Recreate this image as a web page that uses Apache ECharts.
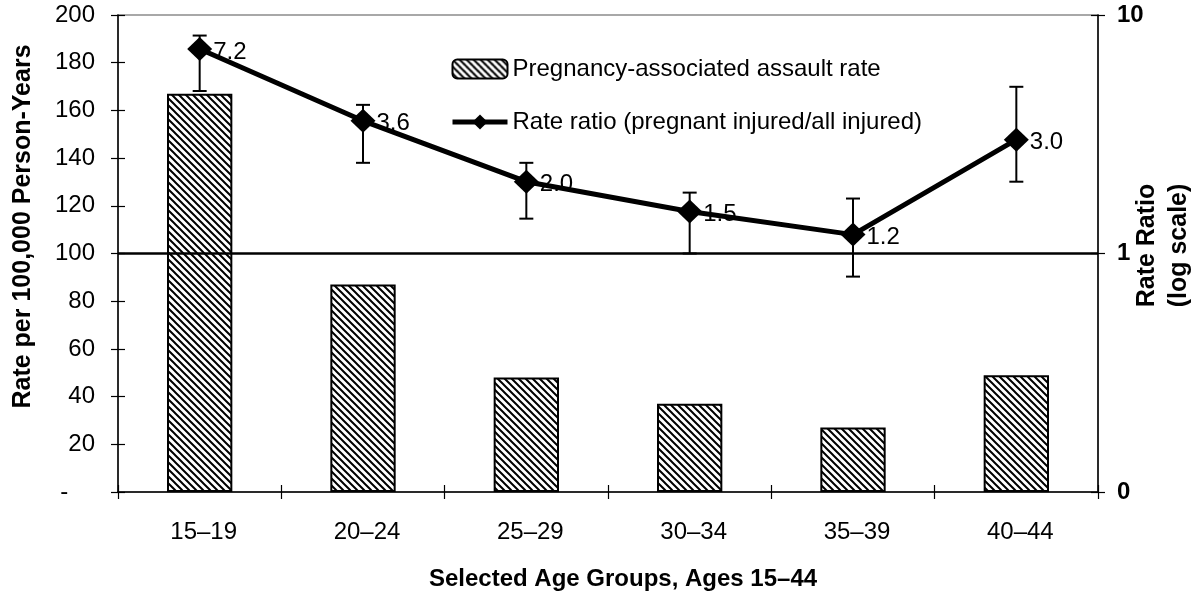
<!DOCTYPE html>
<html><head><meta charset="utf-8">
<script src="https://cdn.jsdelivr.net/npm/echarts@6/dist/echarts.min.js"></script>
<style>html,body{margin:0;padding:0;background:#fff}#c{width:1204px;height:593px}</style>
</head><body><div id="c"></div>
<script>
const categories = ['15–19', '20–24', '25–29', '30–34', '35–39', '40–44'];
const assaultRate = [167, 87, 48, 37, 27, 49];
const rateRatio = [7.2, 3.6, 2.0, 1.5, 1.2, 3.0];
const ratioLow = [4.8, 2.4, 1.4, 1.0, 0.8, 2.0];
const ratioHigh = [8.2, 4.2, 2.4, 1.8, 1.7, 5.0];
const leftMin = 0, leftMax = 200, leftStep = 20;
const rightMin = 0.1, rightMax = 10;
const referenceRatio = 1;

const FONT = "'Liberation Sans', Arial, sans-serif";

function hatch() {
  const s = 7;
  const c = document.createElement('canvas');
  c.width = s; c.height = s;
  const g = c.getContext('2d');
  g.fillStyle = '#fff'; g.fillRect(0, 0, s, s);
  g.strokeStyle = '#000'; g.lineWidth = 2;
  g.beginPath();
  g.moveTo(-1, -1); g.lineTo(s + 1, s + 1);
  g.moveTo(s - 1, -1); g.lineTo(s + 1, 1);
  g.moveTo(-1, s - 1); g.lineTo(1, s + 1);
  g.stroke();
  return c;
}
const pattern = { image: hatch(), repeat: 'repeat' };

const gridBox = { left: 118, right: 106, top: 15, bottom: 101, containLabel: false, outerBoundsMode: 'none' };

const chart = echarts.init(document.getElementById('c'));
chart.setOption({
  animation: false,
  backgroundColor: '#fff',
  textStyle: { fontFamily: FONT, color: '#000' },
  grid: [
    Object.assign({ show: true, borderColor: '#8c8c8c', borderWidth: 1.5, backgroundColor: 'transparent' }, gridBox),
    Object.assign({}, gridBox)
  ],
  legend: {
    orient: 'vertical', left: 445, top: 52,
    itemWidth: 55, itemHeight: 19, itemGap: 29,
    textStyle: { fontSize: 24, fontFamily: FONT, color: '#000' },
    lineStyle: { width: 5 },
    data: ['Pregnancy-associated assault rate', 'Rate ratio (pregnant injured/all injured)']
  },
  xAxis: [
    {
      type: 'category', data: categories, gridIndex: 0,
      axisLine: { lineStyle: { color: '#000', width: 1.5 } },
      axisTick: { show: true, length: 7, lineStyle: { color: '#000', width: 1.2 } },
      axisLabel: { fontSize: 24, color: '#000', margin: 28, fontFamily: FONT, padding: [0, 0, 0, 8] },
      name: 'Selected Age Groups, Ages 15–44', nameLocation: 'middle', nameGap: 75, nameMoveOverlap: false,
      nameTextStyle: { fontSize: 24, fontWeight: 'bold', color: '#000', fontFamily: FONT, padding: [0, 0, 0, 30] }
    },
    {
      type: 'category', data: categories, gridIndex: 1,
      axisLine: { show: false }, axisLabel: { show: false },
      axisTick: { show: true, inside: true, length: 7, lineStyle: { color: '#000', width: 1.2 } }
    }
  ],
  yAxis: [
    {
      type: 'value', min: leftMin, max: leftMax, interval: leftStep, gridIndex: 0, position: 'left',
      axisLine: { show: true, lineStyle: { color: '#000', width: 1.5 } },
      axisTick: { show: true, length: 7, lineStyle: { color: '#000', width: 1.2 } },
      splitLine: { show: false },
      axisLabel: { fontSize: 24, color: '#000', margin: 23, fontFamily: FONT,
        formatter: v => v === 0 ? '-    ' : String(v) },
      name: 'Rate per 100,000 Person-Years', nameLocation: 'middle', nameGap: 82, nameRotate: 90, nameMoveOverlap: false,
      nameTextStyle: { fontSize: 25, fontWeight: 'bold', color: '#000', fontFamily: FONT, padding: [0, 0, 0, 54] }
    },
    {
      type: 'log', logBase: 10, min: rightMin, max: rightMax, gridIndex: 0, position: 'right',
      axisLine: { show: true, lineStyle: { color: '#000', width: 1.5 } },
      axisTick: { show: true, length: 7, lineStyle: { color: '#000', width: 1.2 } },
      splitLine: { show: false },
      axisLabel: { fontSize: 24, fontWeight: 'bold', color: '#000', margin: 19, fontFamily: FONT,
        formatter: v => v < 1 ? '0' : String(Math.round(v)) },
      name: 'Rate Ratio\n(log scale)', nameLocation: 'middle', nameGap: 33, nameRotate: 90, nameMoveOverlap: false,
      nameTextStyle: { fontSize: 25, fontWeight: 'bold', color: '#000', fontFamily: FONT, lineHeight: 32, padding: [0, 0, 0, 16] }
    },
    {
      type: 'value', min: leftMin, max: leftMax, interval: leftStep, gridIndex: 1, position: 'left',
      axisLine: { show: false }, axisLabel: { show: false }, splitLine: { show: false },
      axisTick: { show: true, inside: true, length: 7, lineStyle: { color: '#000', width: 1.2 } }
    },
    {
      type: 'log', logBase: 10, min: rightMin, max: rightMax, gridIndex: 1, position: 'right',
      axisLine: { show: false }, axisLabel: { show: false }, splitLine: { show: false },
      axisTick: { show: true, inside: true, length: 7, lineStyle: { color: '#000', width: 1.2 } }
    }
  ],
  series: [
    {
      name: 'Pregnancy-associated assault rate', type: 'bar', xAxisIndex: 0, yAxisIndex: 0,
      data: assaultRate, barWidth: '40%',
      itemStyle: { color: pattern, borderColor: '#000', borderWidth: 2 },
      z: 2
    },
    {
      name: 'errors', type: 'custom', xAxisIndex: 0, yAxisIndex: 1, z: 3,
      data: categories.map((c, i) => [i, ratioLow[i], ratioHigh[i]]),
      encode: { x: 0, y: [1, 2] },
      renderItem: function (params, api) {
        const i = api.value(0);
        const lo = api.coord([i, api.value(1)]);
        const hi = api.coord([i, api.value(2)]);
        const w = 7;
        const st = { stroke: '#000', lineWidth: 2 };
        return {
          type: 'group', children: [
            { type: 'line', shape: { x1: lo[0], y1: lo[1], x2: hi[0], y2: hi[1] }, style: st },
            { type: 'line', shape: { x1: lo[0] - w, y1: lo[1], x2: lo[0] + w, y2: lo[1] }, style: st },
            { type: 'line', shape: { x1: hi[0] - w, y1: hi[1], x2: hi[0] + w, y2: hi[1] }, style: st }
          ]
        };
      }
    },
    {
      name: 'Rate ratio (pregnant injured/all injured)', type: 'line', xAxisIndex: 0, yAxisIndex: 1,
      data: rateRatio, z: 4,
      symbol: 'diamond', symbolSize: [25, 24],
      lineStyle: { color: '#000', width: 5 },
      itemStyle: { color: '#000' },
      label: { show: true, position: 'right', distance: 1, offset: [0, 3], fontSize: 24, color: '#000', fontFamily: FONT,
        formatter: p => p.value.toFixed(1) },
      markLine: {
        silent: true, symbol: 'none', label: { show: false },
        lineStyle: { color: '#000', width: 2.5, type: 'solid' },
        data: [{ yAxis: referenceRatio }]
      }
    }
  ]
});
</script>
</body></html>
